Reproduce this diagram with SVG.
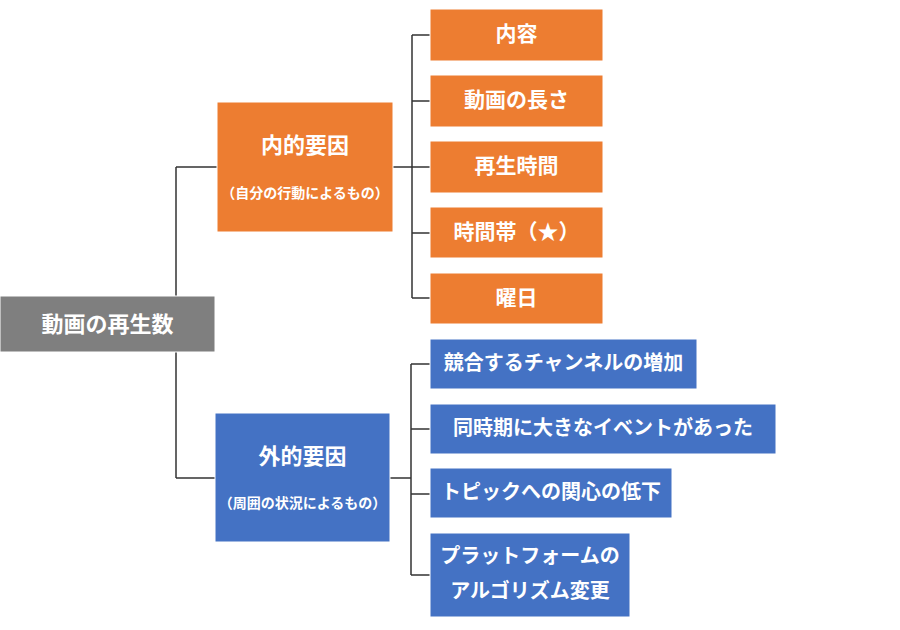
<svg xmlns="http://www.w3.org/2000/svg" width="900" height="630" viewBox="0 0 900 630">
<style>
.o{fill:#ED7D31;stroke:#fff;stroke-width:1}
.b{fill:#4472C4;stroke:#fff;stroke-width:1}
.g{fill:#7F7F7F;stroke:#fff;stroke-width:1}
text{font-family:"Noto Sans CJK JP","Noto Sans",sans-serif;font-weight:bold;fill:#fff;text-anchor:middle;dominant-baseline:central}
.t{font-size:21px}
.u{font-size:20px}
.m{font-size:22px}
.s{font-size:14px}
.c{fill:none;stroke:#333;stroke-width:1.5}
</style>
<rect width="900" height="630" fill="#fff"/>
<g id="connectors">
<path class="c" d="M176,167V296M176,352V478M176,167H217M176,478H215"/>
<path class="c" d="M393,167H412M412,35V298M412,35H430M412,101H430M412,167H430M412,233H430M412,298H430"/>
<path class="c" d="M390,478H411M411,364V575M411,364H430M411,429H430M411,494H430M411,575H430"/>
</g>
<g id="root"><rect class="g" x="0" y="296" width="215" height="56"/><text class="m" x="107.5" y="322">動画の再生数</text></g>
<g id="internal"><rect class="o" x="217" y="102" width="176" height="130"/><text class="m" x="305" y="143">内的要因</text><text class="s" x="305" y="192">（自分の行動によるもの）</text></g>
<g id="external"><rect class="b" x="215" y="413" width="175" height="129"/><text class="m" x="302.5" y="454">外的要因</text><text class="s" x="302.5" y="502">（周囲の状況によるもの）</text></g>
<g id="i1"><rect class="o" x="430" y="9" width="173" height="52"/><text class="t" x="516.5" y="32">内容</text></g>
<g id="i2"><rect class="o" x="430" y="75" width="173" height="52"/><text class="t" x="516.5" y="98">動画の長さ</text></g>
<g id="i3"><rect class="o" x="430" y="141" width="173" height="52"/><text class="t" x="516.5" y="164">再生時間</text></g>
<g id="i4"><rect class="o" x="430" y="207" width="173" height="51"/><text class="t" x="516.5" y="230">時間帯（★）</text></g>
<g id="i5"><rect class="o" x="430" y="273" width="173" height="51"/><text class="t" x="516.5" y="296">曜日</text></g>
<g id="e1"><rect class="b" x="430" y="339" width="267" height="50"/><text class="u" x="563.5" y="361">競合するチャンネルの増加</text></g>
<g id="e2"><rect class="b" x="430" y="404" width="346" height="50"/><text class="u" x="603" y="426">同時期に大きなイベントがあった</text></g>
<g id="e3"><rect class="b" x="430" y="468" width="242" height="50"/><text class="u" x="551" y="490">トピックへの関心の低下</text></g>
<g id="e4"><rect class="b" x="430" y="533" width="200" height="84"/><text class="u" x="530" y="554">プラットフォームの</text><text class="u" x="530" y="589">アルゴリズム変更</text></g>
</svg>
